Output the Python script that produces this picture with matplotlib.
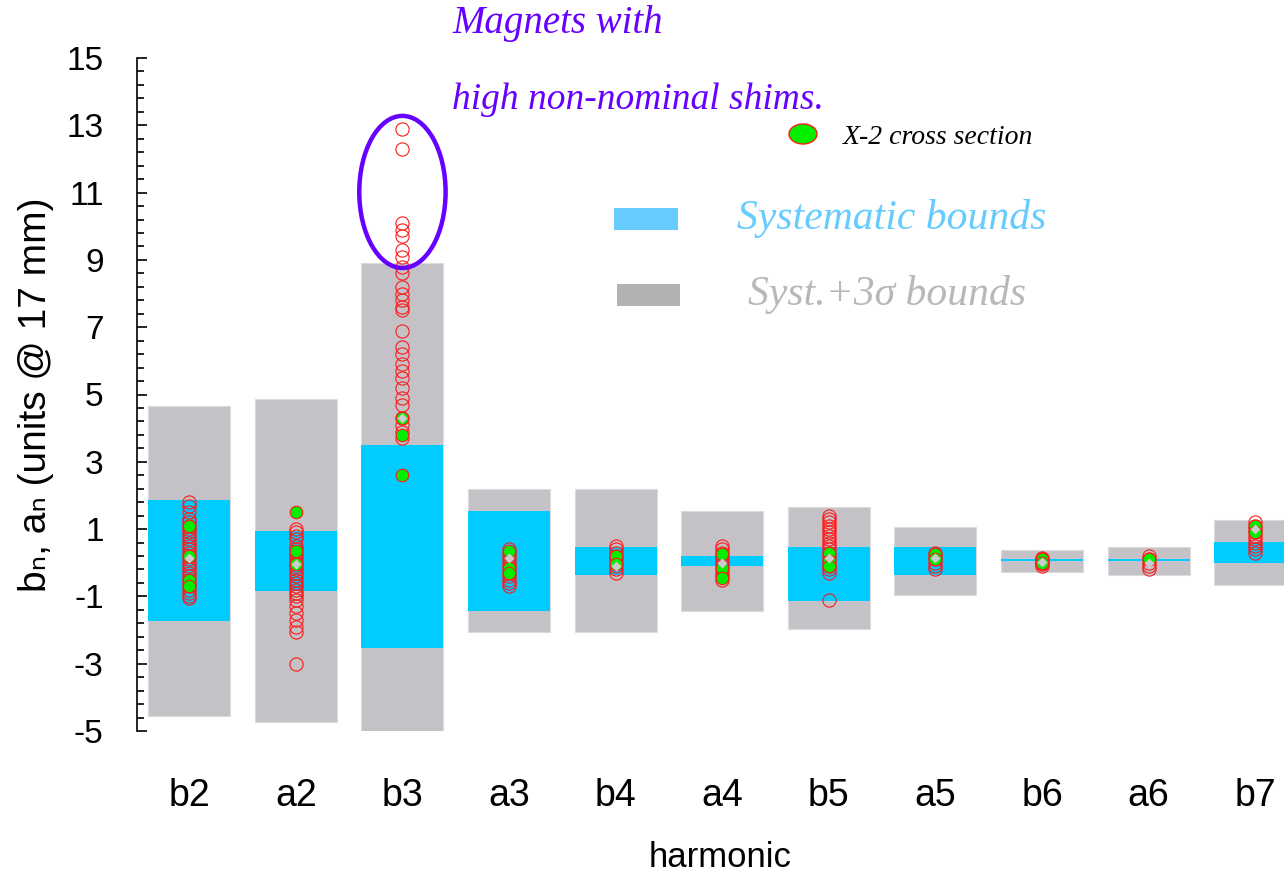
import numpy as np
import matplotlib
matplotlib.use('Agg')
import matplotlib.pyplot as plt
from matplotlib.patches import Ellipse, Rectangle
from matplotlib.ticker import FixedLocator

plt.rcParams['font.family'] = ['Liberation Sans', 'DejaVu Sans']
plt.rcParams['axes.unicode_minus'] = False

# гармоники
harmonics = ['b2', 'a2', 'b3', 'a3', 'b4', 'a4', 'b5', 'a5', 'b6', 'a6', 'b7']

# систематические границы (низ, верх)
syst_lo = [-1.73, -0.84, -2.53, -1.43, -0.36, -0.10, -1.14, -0.36, 0.04, 0.04, -0.01]
syst_hi = [1.86, 0.94, 3.50, 1.54, 0.47, 0.20, 0.47, 0.47, 0.10, 0.11, 0.62]

# границы систематика + 3 сигма
sig_lo = [-4.55, -4.73, -5.00, -2.06, -2.06, -1.43, -1.97, -0.96, -0.27, -0.36, -0.66]
sig_hi = [4.66, 4.87, 8.91, 2.19, 2.19, 1.54, 1.66, 1.06, 0.38, 0.47, 1.27]

# измерения по магнитам
magnets = {
    'b2': [1.8, 1.7, 1.5, 1.3, 1.2, 1.1, 1.0, 0.9, 0.8, 0.7, 0.6, 0.5, 0.4, 0.3, 0.2,
           0.1, 0.0, -0.1, -0.2, -0.3, -0.4, -0.5, -0.6, -0.7, -0.8, -0.9, -1.0, -1.05],
    'a2': [1.0, 0.9, 0.8, 0.7, 0.5, 0.4, 0.3, 0.2, 0.1, 0.0, -0.1, -0.2, -0.3, -0.4,
           -0.5, -0.6, -0.7, -0.8, -0.9, -1.0, -1.1, -1.3, -1.5, -1.7, -1.9, -2.05, -3.0],
    'b3': [12.9, 12.3, 10.1, 9.9, 9.7, 9.3, 9.1, 8.8, 8.6, 8.2, 8.0, 7.8, 7.6, 7.5,
           6.9, 6.4, 6.2, 5.9, 5.7, 5.5, 5.2, 4.9, 4.7, 4.3, 4.1, 3.9, 3.7],
    'a3': [0.4, 0.3, 0.2, 0.1, 0.0, -0.1, -0.2, -0.3, -0.4, -0.5, -0.6, -0.7],
    'b4': [0.5, 0.4, 0.3, 0.2, 0.1, 0.0, -0.1, -0.2, -0.3],
    'a4': [0.5, 0.4, 0.3, 0.2, 0.1, 0.0, -0.1, -0.2, -0.3, -0.4, -0.5],
    'b5': [1.4, 1.3, 1.2, 1.1, 1.0, 0.9, 0.8, 0.7, 0.6, 0.5, 0.4, 0.3, 0.2, 0.1, 0.0,
           -0.1, -0.2, -0.3, -1.1],
    'a5': [0.3, 0.2, 0.1, 0.0, -0.1, -0.2],
    'b6': [0.15, 0.1, 0.05, 0.0, -0.05, -0.1],
    'a6': [0.2, 0.1, 0.0, -0.1, -0.2],
    'b7': [1.2, 1.1, 1.0, 0.9, 0.8, 0.7, 0.6, 0.5, 0.4, 0.3],
}

# сечение X-2
x2 = {
    'b2': [1.1, 0.2, -0.5, -0.7],
    'a2': [1.5, 0.35, -0.05],
    'b3': [4.3, 3.8, 2.6],
    'a3': [0.35, -0.15, -0.3],
    'b4': [0.2, -0.05],
    'a4': [0.25, -0.15, -0.45],
    'b5': [0.3, 0.05, -0.1],
    'a5': [0.25, 0.1],
    'b6': [0.1, 0.0],
    'a6': [0.12],
    'b7': [1.1, 0.9],
}

# средние значения
mean_vals = [0.15, -0.05, 4.3, 0.15, -0.1, 0.0, 0.15, 0.15, 0.03, 0.0, 1.0]

fig = plt.figure(figsize=(12.84, 8.76), dpi=100)
ax = fig.add_axes([137 / 1284, 1 - 731 / 876, 1 - 137 / 1284, (731 - 58) / 876])

x = np.arange(len(harmonics))
ax.bar(x, np.array(sig_hi) - np.array(sig_lo), bottom=sig_lo, width=0.77,
       color='#c4c2c6', edgecolor='#dcdcdc', linewidth=0.8, zorder=1)
ax.bar(x, np.array(syst_hi) - np.array(syst_lo), bottom=syst_lo, width=0.77,
       color='#00ccff', linewidth=0, zorder=2)

for i, h in enumerate(harmonics):
    ax.plot([i] * len(magnets[h]), magnets[h], 'o', ms=9.5, mfc='none', mec='#ff1a1a',
            mew=0.8, zorder=3)
    ax.plot([i] * len(x2[h]), x2[h], 'o', ms=9, mfc='#00ee00', mec='#ff1a1a',
            mew=0.8, zorder=4)
ax.plot(x, mean_vals, 'D', ms=5, mfc='#cccccc', mec='none', zorder=5)

ax.set_xlim(-0.49, 10.27)
ax.set_ylim(-5, 15)
for s in ['top', 'right', 'bottom']:
    ax.spines[s].set_visible(False)
ax.spines['left'].set_linewidth(1.2)

ax.yaxis.set_major_locator(FixedLocator(np.arange(-5, 16, 2)))
ax.yaxis.set_minor_locator(FixedLocator(np.arange(-5, 15.01, 0.4)))
ax.tick_params(axis='y', which='major', direction='in', length=7, width=1.2,
               labelsize=24, pad=24)
ax.tick_params(axis='y', which='minor', direction='in', length=5, width=1.2)
ax.set_xticks(x)
ax.set_xticklabels(harmonics)
ax.tick_params(axis='x', length=0, labelsize=27, pad=34)
ax.set_xlabel('harmonic', fontsize=25)
ax.xaxis.set_label_coords(0.508, -0.163)
ax.set_ylabel('bₙ, aₙ (units @ 17 mm)', fontsize=28, labelpad=9)

# выделение магнитов с большими прокладками
ax.add_patch(Ellipse((2, 11.02), 0.81, 4.52, fill=False, edgecolor='#6600ff',
                     linewidth=3.2, clip_on=False, zorder=6))

# надписи и легенда в пикселях фигуры
ov = fig.add_axes([0, 0, 1, 1], facecolor='none')
ov.set_xlim(0, 1284)
ov.set_ylim(876, 0)
ov.axis('off')
serif_it = dict(family=['Liberation Serif', 'DejaVu Serif'], style='italic')
ov.text(452, 24, 'Magnets with', color='#6600ff', fontsize=28, va='center', **serif_it)
ov.text(452, 100, 'high non-nominal shims.', color='#6600ff', fontsize=27, va='center',
        **serif_it)
ov.add_patch(Ellipse((803, 134), 28, 20, facecolor='#00ee00', edgecolor='#ff1a1a', lw=1))
ov.text(843, 138, 'X-2 cross section', color='black', fontsize=20, va='center', **serif_it)
ov.add_patch(Rectangle((614, 208), 64, 22, facecolor='#66ccff', edgecolor='none'))
ov.text(737, 218, 'Systematic bounds', color='#66ccff', fontsize=30, va='center', **serif_it)
ov.add_patch(Rectangle((617, 284), 63, 22, facecolor='#b2b2b2', edgecolor='none'))
ov.text(748, 294, 'Syst.+3σ bounds', color='#b8b8b8', fontsize=30, va='center', **serif_it)

plt.savefig('out.png', dpi=100)
